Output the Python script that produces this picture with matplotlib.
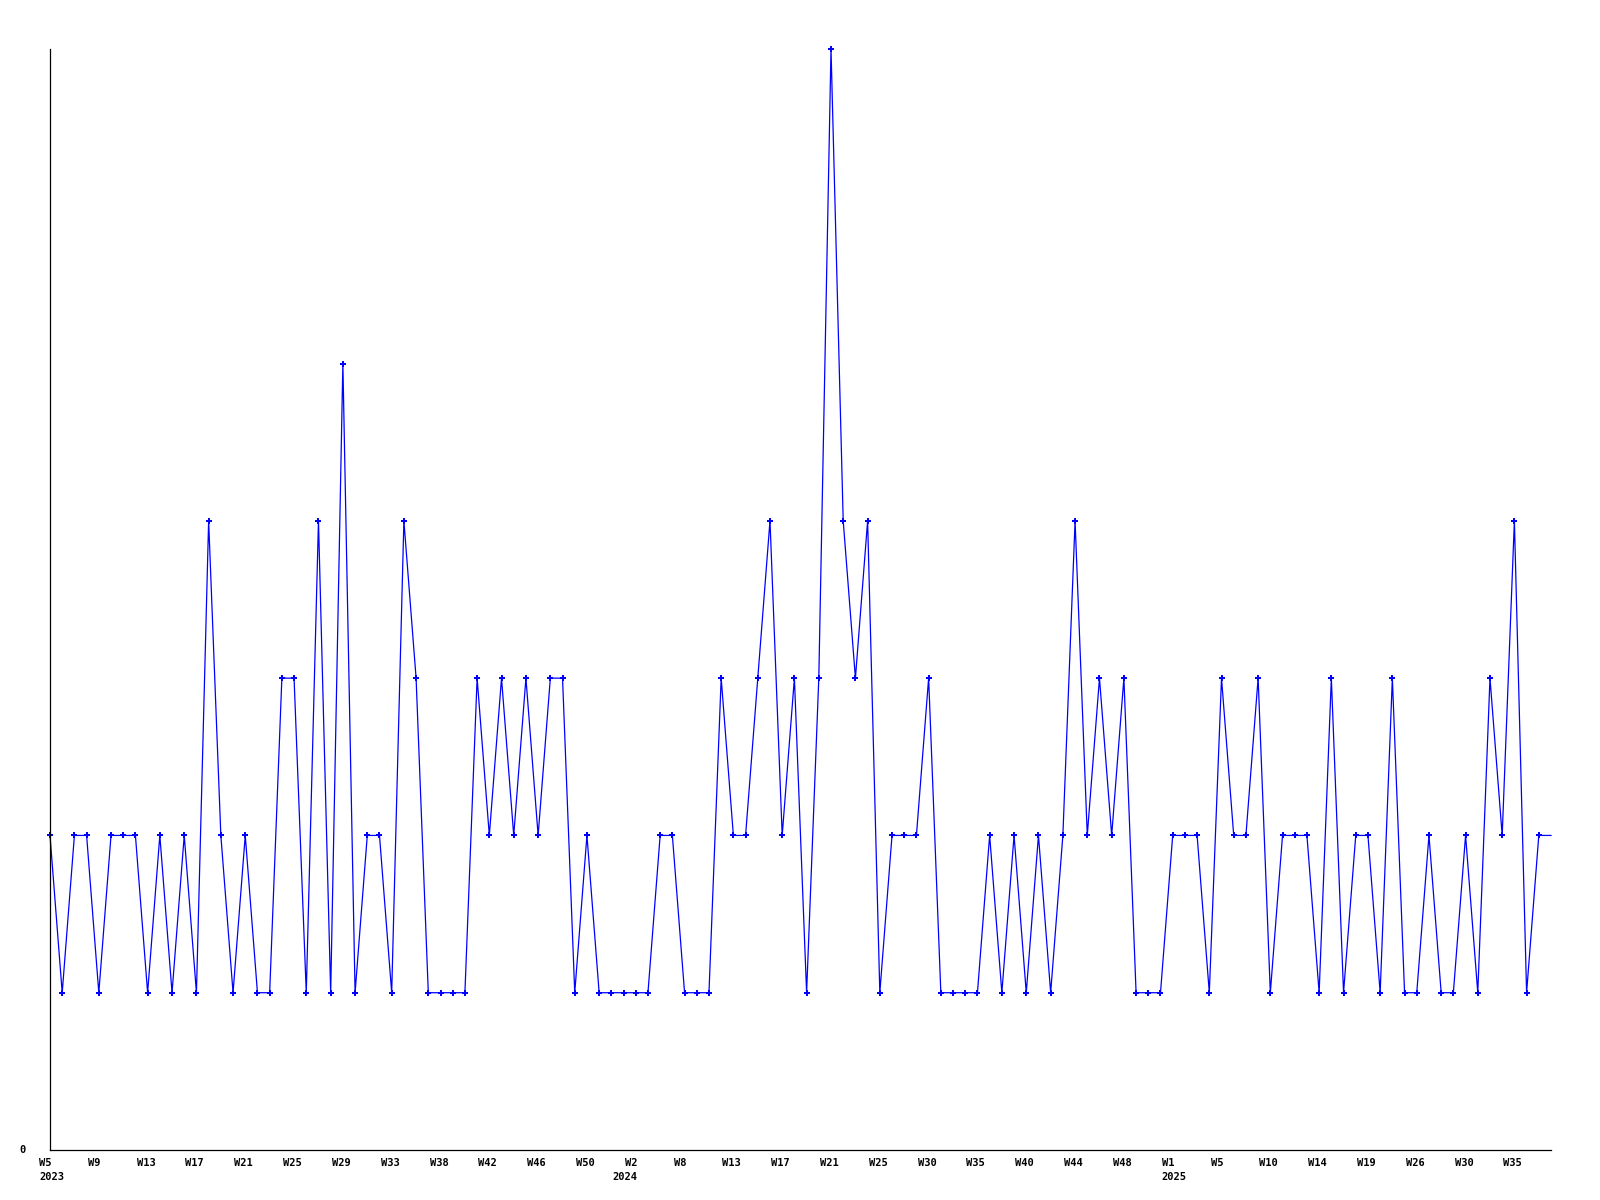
#!/usr/bin/env python3
'''weekly counts, 2023 - 2025'''

import matplotlib
matplotlib.use('Agg')

import matplotlib.pyplot as plt

# weekly values, one per week shown (last one is the running week)
values = [2, 1, 2, 2, 1, 2, 2, 2, 1, 2,
          1, 2, 1, 4, 2, 1, 2, 1, 1, 3,
          3, 1, 4, 1, 5, 1, 2, 2, 1, 4,
          3, 1, 1, 1, 1, 3, 2, 3, 2, 3,
          2, 3, 3, 1, 2, 1, 1, 1, 1, 1,
          2, 2, 1, 1, 1, 3, 2, 2, 3, 4,
          2, 3, 1, 3, 7, 4, 3, 4, 1, 2,
          2, 2, 3, 1, 1, 1, 1, 2, 1, 2,
          1, 2, 1, 2, 4, 2, 3, 2, 3, 1,
          1, 1, 2, 2, 2, 1, 3, 2, 2, 3,
          1, 2, 2, 2, 1, 3, 1, 2, 2, 1,
          3, 1, 1, 2, 1, 1, 2, 1, 3, 2,
          4, 1, 2, 2]

# labels for every 4th week
week_labels = ["W5", "W9", "W13", "W17", "W21", "W25", "W29", "W33", "W38",
               "W42", "W46", "W50", "W2", "W8", "W13", "W17", "W21", "W25",
               "W30", "W35", "W40", "W44", "W48", "W1", "W5", "W10", "W14",
               "W19", "W26", "W30", "W35"]
# year label and the week index where that year starts
years = ["2023", "2024", "2025"]
year_start = [0, 47, 92]


def main():
    fig = plt.figure(figsize=(16, 12), dpi=100)
    ax = fig.add_axes([50 / 1600, 50 / 1200, 1501 / 1600, 1101 / 1200])

    x = list(range(len(values)))
    # line runs to the edge, no marker on the running week
    ax.plot(x, values, color='#0000ff', lw=0.9, marker='P', ms=5,
            mew=0, markevery=list(range(len(values) - 1)), clip_on=False)

    ax.set_xlim(0, len(values) - 1)
    ax.set_ylim(0, max(values))

    for s in ('top', 'right'):
        ax.spines[s].set_visible(False)
    for s in ('left', 'bottom'):
        ax.spines[s].set_linewidth(0.9)
        ax.spines[s].set_color('black')
    ax.set_xticks([])
    ax.set_yticks([])

    font = dict(family='DejaVu Sans Mono', weight='bold', fontsize=7.5)

    for i, lab in enumerate(week_labels):
        ax.annotate(lab, xy=(i * 4, 0), xycoords=('data', 'axes fraction'),
                    xytext=(-11, -8), textcoords='offset pixels',
                    ha='left', va='top', **font)
    for yr, start in zip(years, year_start):
        ax.annotate(yr, xy=(start, 0), xycoords=('data', 'axes fraction'),
                    xytext=(-11, -22), textcoords='offset pixels',
                    ha='left', va='top', **font)
    ax.annotate("0", xy=(0, 0), xycoords='axes fraction',
                xytext=(-24, 0), textcoords='offset pixels',
                ha='right', va='center', **font)

    plt.savefig("out.png", dpi=100)


if __name__ == "__main__":
    main()
